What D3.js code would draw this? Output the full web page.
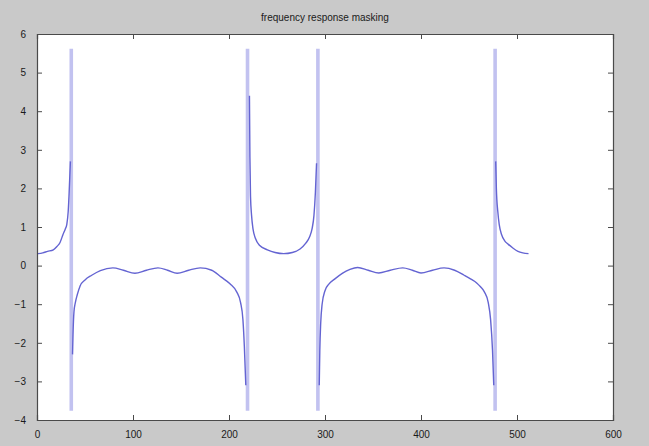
<!DOCTYPE html>
<html><head><meta charset="utf-8">
<script src="https://cdn.jsdelivr.net/npm/d3@7"></script>
<style>
body{margin:0;background:#c9c9c9;}
svg{display:block;}
</style>
</head><body>
<svg id="chart" width="649" height="446"></svg>
<script>
const title = "frequency response masking";
const xTickValues = [0, 100, 200, 300, 400, 500, 600];
const yTickValues = [-4, -3, -2, -1, 0, 1, 2, 3, 4, 5, 6];

// sample index (x) and response value (y); null marks a jump
const sampleIndex = [
  1, 6, 11, 17, 21, 24, 27, 29.5, 31, 32.5, 33.5, 34.3, 34.8,
  35.2,
  37, 37.5, 38.5, 40, 42, 45, 50, 57, 66, 79, 90, 102, 114, 126, 136, 146, 158, 170, 182, 192, 201, 208, 212, 214.5, 216, 217.5,
  219,
  221.3, 221.8, 222.4, 223.5, 225, 227.6, 232, 240, 248, 257, 266, 274, 280, 284, 286.5, 288.5, 290, 291.2,
  292.5,
  294, 294.6, 295.5, 297, 300, 304, 310, 318, 326, 334, 345, 356, 368, 381, 391, 400, 412, 424, 435, 445, 452, 458, 462, 466, 470, 472.5, 474.5, 475.8,
  477,
  477.8, 478.5, 480, 481.5, 484, 487, 491, 496, 501, 506, 512
];
const response = [
  0.31, 0.33, 0.37, 0.41, 0.5, 0.6, 0.8, 0.95, 1.06, 1.4, 1.9, 2.4, 2.7,
  null,
  -2.3, -1.8, -1.2, -0.95, -0.75, -0.52, -0.37, -0.25, -0.13, -0.06, -0.12, -0.2, -0.12, -0.06, -0.12, -0.2, -0.12, -0.06, -0.12, -0.3, -0.47, -0.68, -0.95, -1.4, -2.1, -3.1,
  null,
  4.4, 2.8, 1.8, 1.3, 0.95, 0.7, 0.52, 0.41, 0.34, 0.31, 0.34, 0.43, 0.58, 0.75, 0.95, 1.3, 1.9, 2.65,
  null,
  -3.1, -2.2, -1.5, -1.0, -0.65, -0.48, -0.35, -0.2, -0.1, -0.05, -0.12, -0.19, -0.12, -0.06, -0.12, -0.19, -0.12, -0.06, -0.12, -0.25, -0.35, -0.45, -0.55, -0.68, -0.95, -1.4, -2.2, -3.1,
  null,
  2.7, 2.0, 1.4, 1.06, 0.8, 0.65, 0.55, 0.45, 0.37, 0.33, 0.31
];

// vertical spikes (full-range oscillation) at these sample indices
const spikeX = [35.7, 219.3, 292.6, 477.2];
const spikeTop = [5.62, 5.62, 5.62, 5.62];
const spikeBottom = [-3.76, -3.76, -3.76, -3.76];

const W = 649, H = 446;
const margin = {left: 37, right: 36, top: 34, bottom: 26};
const svg = d3.select("#chart");

svg.append("rect").attr("width", W).attr("height", H).attr("fill", "#c9c9c9");

const x = d3.scaleLinear().domain([0, 600]).range([margin.left, W - margin.right]);
const y = d3.scaleLinear().domain([-4, 6]).range([H - margin.bottom, margin.top]);

svg.append("rect")
  .attr("x", x(0)).attr("y", y(6))
  .attr("width", x(600) - x(0)).attr("height", y(-4) - y(6))
  .attr("fill", "#ffffff");

// spikes (pale bands)
const spikes = spikeX.map((d, i) => ({x: d, top: spikeTop[i], bottom: spikeBottom[i]}));
svg.append("g").selectAll("line").data(spikes).join("line")
  .attr("x1", d => x(d.x)).attr("x2", d => x(d.x))
  .attr("y1", d => y(d.top)).attr("y2", d => y(d.bottom))
  .attr("stroke", "#c2c2f0").attr("stroke-width", 3.6);

// response curve
const pts = sampleIndex.map((d, i) => ({x: d, y: response[i]}));
const line = d3.line().defined(d => d.y !== null).curve(d3.curveMonotoneX)
  .x(d => x(d.x)).y(d => y(d.y));
svg.append("path").datum(pts)
  .attr("d", line)
  .attr("fill", "none")
  .attr("stroke", "#6464d2")
  .attr("stroke-width", 1.4)
  .attr("stroke-linejoin", "round");

// axes
const fontFam = "'Liberation Sans', Arial, sans-serif";
const axB = svg.append("g").attr("transform", `translate(0,${y(-4)})`)
  .call(d3.axisBottom(x).tickValues(xTickValues).tickSize(-5).tickPadding(11).tickFormat(d3.format("d")));
const axT = svg.append("g").attr("transform", `translate(0,${y(6)})`)
  .call(d3.axisTop(x).tickValues(xTickValues).tickSize(-5).tickFormat(""));
const axL = svg.append("g").attr("transform", `translate(${x(0)},0)`)
  .call(d3.axisLeft(y).tickValues(yTickValues).tickSize(-5).tickPadding(11).tickFormat(d3.format("d")));
const axR = svg.append("g").attr("transform", `translate(${x(600)},0)`)
  .call(d3.axisRight(y).tickValues(yTickValues).tickSize(-5).tickFormat(""));

[axB, axT, axL, axR].forEach(g => {
  g.selectAll(".domain").attr("stroke", "#4a4a4a").attr("stroke-width", 1.2);
  g.selectAll(".tick line").attr("stroke", "#4a4a4a");
  g.selectAll("text").attr("fill", "#1a1a1a").attr("font-size", 10).attr("font-family", fontFam);
});

svg.append("text")
  .attr("x", (x(0) + x(600)) / 2).attr("y", 21)
  .attr("text-anchor", "middle")
  .attr("font-family", fontFam).attr("font-size", 10).attr("fill", "#1a1a1a")
  .text(title);
</script>
</body></html>
